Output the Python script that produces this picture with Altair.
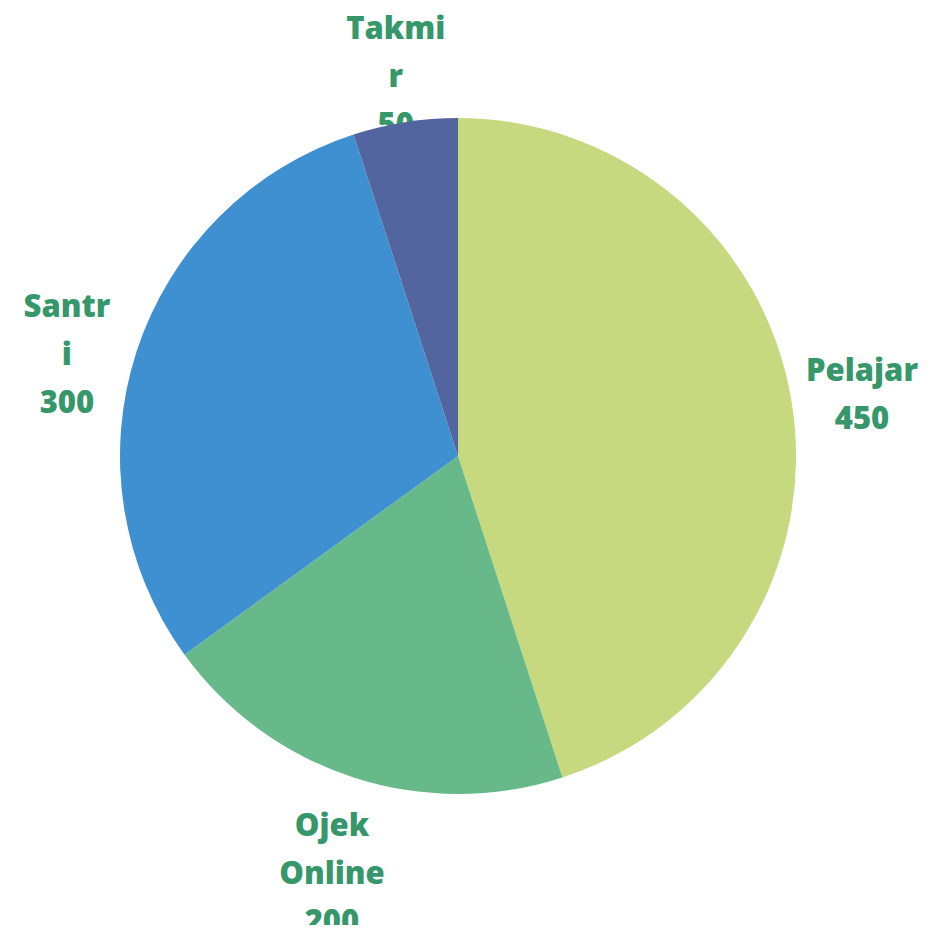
import altair as alt
import pandas as pd

categories = ["Pelajar", "Ojek Online", "Santri", "Takmir"]
values = [450, 200, 300, 50]
labels = ["Pelajar\n450", "Ojek\nOnline\n200", "Santr\ni\n300", "Takmi\nr\n50"]
colors = ["#c6d97f", "#68b98a", "#3e90d1", "#53659f"]

df = pd.DataFrame({
    "category": categories,
    "value": values,
    "label": labels,
    "order": list(range(len(categories))),
})

CX, CY, R = 450, 448, 338
# label placement style: (radius, dx, dy)
label_style = {
    "Pelajar": (409, 0, -20),
    "Ojek Online": (437, 9, -45),
    "Santri": (407, -4, -22),
    "Takmir": (385, -2, -46),
}

base = alt.Chart(df).encode(
    theta=alt.Theta("value:Q", stack=True),
    order=alt.Order("order:Q"),
    x=alt.value(CX),
    y=alt.value(CY),
)

text_layers = []
for cat in categories:
    r, dx, dy = label_style[cat]
    t = base.mark_text(
        radius=r,
        dx=dx,
        dy=dy,
        font="Open Sans",
        fontWeight=800,
        fontSize=31,
        lineBreak="\n",
        lineHeight=48,
        align="center",
        baseline="middle",
        color="#35976a",
    ).encode(
        text=alt.condition(alt.datum.category == cat, "label:N", alt.value("")),
    )
    text_layers.append(t)

arcs = base.mark_arc(radius=R, stroke=None).encode(
    color=alt.Color("category:N", scale=alt.Scale(domain=categories, range=colors), legend=None),
)

chart = alt.layer(*text_layers, arcs).properties(
    width=917, height=917, padding=0, autosize=alt.AutoSizeParams(type="none"),
    background="white",
).configure_view(stroke=None)

chart.save("out.html", embed_options={"renderer": "svg", "actions": False})
